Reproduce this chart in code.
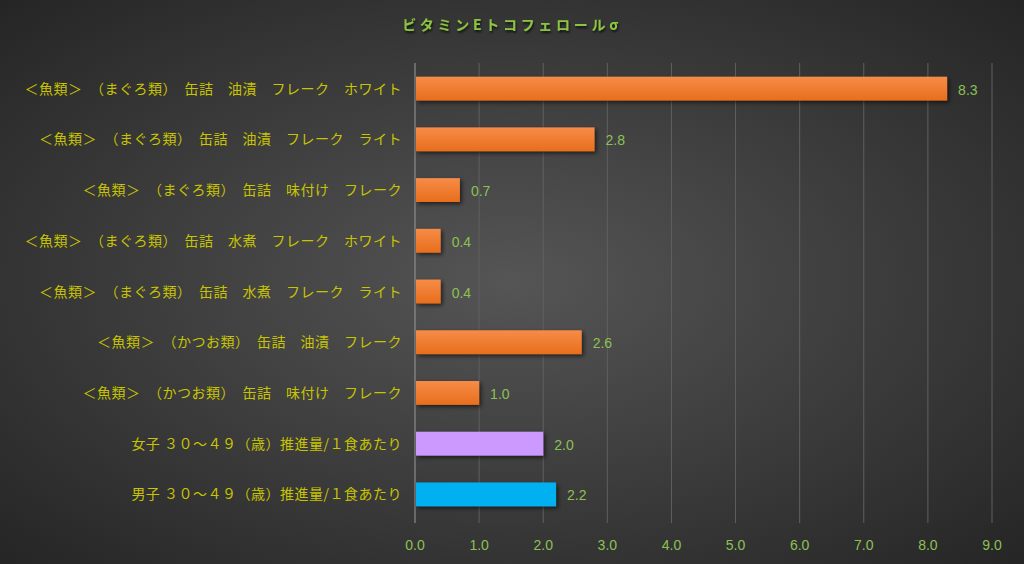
<!DOCTYPE html>
<html>
<head>
<meta charset="utf-8">
<script src="https://cdn.jsdelivr.net/npm/d3@7"></script>
<style>
  body { margin: 0; background: #333; }
  svg { display: block; }
</style>
</head>
<body>
<div id="chart"></div>
<script>
const categories = [
  '＜魚類＞　（まぐろ類）　缶詰　油漬　フレーク　ホワイト',
  '＜魚類＞　（まぐろ類）　缶詰　油漬　フレーク　ライト',
  '＜魚類＞　（まぐろ類）　缶詰　味付け　フレーク',
  '＜魚類＞　（まぐろ類）　缶詰　水煮　フレーク　ホワイト',
  '＜魚類＞　（まぐろ類）　缶詰　水煮　フレーク　ライト',
  '＜魚類＞　（かつお類）　缶詰　油漬　フレーク',
  '＜魚類＞　（かつお類）　缶詰　味付け　フレーク',
  '女子 ３０～４９（歳）推進量/１食あたり',
  '男子 ３０～４９（歳）推進量/１食あたり'
]
const values = [8.3, 2.8, 0.7, 0.4, 0.4, 2.6, 1.0, 2.0, 2.2]
const barKinds = ['food', 'food', 'food', 'food', 'food', 'food', 'food', 'female', 'male']
const ticks = [0, 1, 2, 3, 4, 5, 6, 7, 8, 9]

const width = 1024
const height = 564
const margin = { top: 63, left: 415, right: 32, bottom: 44 }

const svg = d3
  .select('#chart')
  .append('svg')
  .attr('width', width)
  .attr('height', height)

const defs = svg.append('defs')

const bg = defs
  .append('radialGradient')
  .attr('id', 'bg')
  .attr('cx', '50%')
  .attr('cy', '50%')
  .attr('r', '75%')
bg.append('stop').attr('offset', '0%').attr('stop-color', '#555555')
bg.append('stop').attr('offset', '100%').attr('stop-color', '#222222')

const orange = defs
  .append('linearGradient')
  .attr('id', 'orange')
  .attr('x1', 0).attr('y1', 0).attr('x2', 0).attr('y2', 1)
orange.append('stop').attr('offset', '0%').attr('stop-color', '#f68c48')
orange.append('stop').attr('offset', '100%').attr('stop-color', '#e86e1c')

const shadow = defs.append('filter').attr('id', 'shadow')
  .attr('x', '-10%').attr('y', '-30%').attr('width', '130%').attr('height', '180%')
shadow.append('feDropShadow')
  .attr('dx', 2).attr('dy', 2).attr('stdDeviation', 2)
  .attr('flood-color', '#000').attr('flood-opacity', 0.6)

const titleShadow = defs.append('filter').attr('id', 'tshadow')
titleShadow.append('feDropShadow')
  .attr('dx', 1).attr('dy', 2).attr('stdDeviation', 1.2)
  .attr('flood-color', '#000').attr('flood-opacity', 0.7)

svg.append('rect')
  .attr('width', width)
  .attr('height', height)
  .attr('fill', 'url(#bg)')

const x = d3
  .scaleLinear()
  .domain([0, 9])
  .range([margin.left, width - margin.right])

const y = d3
  .scaleBand()
  .domain(categories)
  .range([margin.top, height - margin.bottom])
  .paddingInner(0.53)
  .paddingOuter(0.27)

const fills = { food: 'url(#orange)', female: '#cc99ff', male: '#00b0f0' }
const fontJP = '"Noto Sans CJK JP", "Noto Sans", sans-serif'

// grid
svg
  .append('g')
  .selectAll('line')
  .data(ticks)
  .enter()
  .append('line')
  .attr('x1', d => x(d))
  .attr('x2', d => x(d))
  .attr('y1', margin.top)
  .attr('y2', height - margin.bottom + 3)
  .attr('stroke', d => (d === 0 ? '#9a9a9a' : '#606060'))
  .attr('stroke-width', 1)

// x axis labels
svg
  .append('g')
  .selectAll('text')
  .data(ticks)
  .enter()
  .append('text')
  .attr('x', d => x(d))
  .attr('y', height - 14)
  .attr('text-anchor', 'middle')
  .attr('fill', '#8cc152')
  .attr('font-family', '"Liberation Sans", sans-serif')
  .attr('font-size', 14)
  .text(d => d3.format('.1f')(d))

// bars
svg
  .append('g')
  .selectAll('rect')
  .data(values)
  .enter()
  .append('rect')
  .attr('x', x(0) + 1)
  .attr('y', (d, i) => y(categories[i]))
  .attr('width', d => x(d) - x(0) - 1)
  .attr('height', y.bandwidth())
  .attr('fill', (d, i) => fills[barKinds[i]])
  .attr('filter', 'url(#shadow)')

// value labels
svg
  .append('g')
  .selectAll('text')
  .data(values)
  .enter()
  .append('text')
  .attr('x', d => x(d) + 11)
  .attr('y', (d, i) => y(categories[i]) + y.bandwidth() / 2 + 6)
  .attr('fill', '#8cc152')
  .attr('font-family', '"Liberation Sans", sans-serif')
  .attr('font-size', 14)
  .text(d => d3.format('.1f')(d))

// category labels
svg
  .append('g')
  .selectAll('text')
  .data(categories)
  .enter()
  .append('text')
  .attr('x', margin.left - 13)
  .attr('y', d => y(d) + y.bandwidth() / 2 + 5)
  .attr('text-anchor', 'end')
  .attr('fill', '#c8c400')
  .attr('font-family', fontJP)
  .attr('font-size', 14)
  .attr('letter-spacing', 0.5)
  .text(d => d)

// title
svg
  .append('text')
  .attr('x', 512)
  .attr('y', 30)
  .attr('text-anchor', 'middle')
  .attr('fill', '#8cc63f')
  .attr('font-family', fontJP)
  .attr('font-weight', 'bold')
  .attr('font-size', 14)
  .attr('letter-spacing', 3.7)
  .attr('filter', 'url(#tshadow)')
  .text('ビタミンEトコフェロールσ')
</script>
</body>
</html>
